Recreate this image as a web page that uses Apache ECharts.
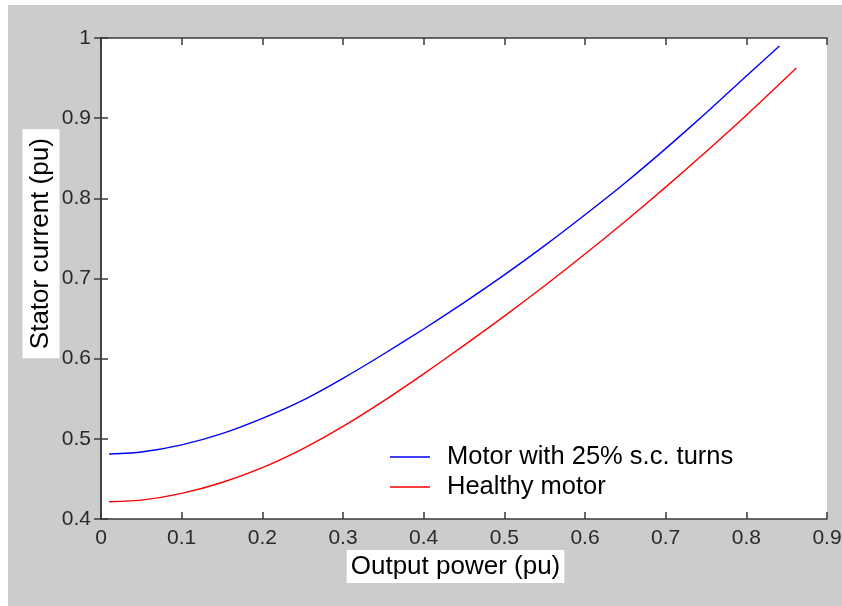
<!DOCTYPE html>
<html>
<head>
<meta charset="utf-8">
<script src="https://cdn.jsdelivr.net/npm/echarts@6/dist/echarts.min.js"></script>
<style>
  html, body { margin: 0; padding: 0; background: #fff; }
  #chart { width: 842px; height: 606px; }
</style>
</head>
<body>
<div id="chart"></div>
<script>
// Output power (pu) and stator current (pu) for each motor condition
const faultyPower   = [0.01, 0.05, 0.10, 0.15, 0.20, 0.25, 0.30, 0.35, 0.40, 0.45, 0.50, 0.55, 0.60, 0.65, 0.70, 0.75, 0.80, 0.841];
const faultyCurrent = [0.481, 0.4835, 0.4925, 0.5065, 0.5255, 0.548, 0.5755, 0.6055, 0.637, 0.670, 0.7045, 0.741, 0.7795, 0.8195, 0.862, 0.9065, 0.9525, 0.990];

const healthyPower   = [0.01, 0.05, 0.10, 0.15, 0.20, 0.25, 0.30, 0.35, 0.40, 0.45, 0.50, 0.55, 0.60, 0.65, 0.70, 0.75, 0.80, 0.862];
const healthyCurrent = [0.4216, 0.4235, 0.432, 0.4455, 0.464, 0.4875, 0.5155, 0.547, 0.581, 0.6165, 0.653, 0.691, 0.7305, 0.7715, 0.814, 0.858, 0.9035, 0.9625];

const seriesNames = ['Motor with 25% s.c. turns', 'Healthy motor'];
const xTitle = 'Output power (pu)';
const yTitle = 'Stator current (pu)';

const zip = (xs, ys) => xs.map((x, i) => [x, ys[i]]);

const chart = echarts.init(document.getElementById('chart'), null, { renderer: 'canvas' });

const axisLine = { show: true, lineStyle: { color: '#3a3a3a', width: 1.5 } };
const axisTick = { show: true, inside: true, length: 7, lineStyle: { color: '#3a3a3a', width: 1.5 } };
const tickFont = { color: '#2a2a2a', fontSize: 21, fontFamily: 'Liberation Sans, Arial, sans-serif' };
const fmt = v => String(Math.round(v * 10) / 10);

chart.setOption({
  backgroundColor: '#ffffff',
  animation: false,
  graphic: [
    { type: 'rect', z: -10, silent: true, shape: { x: 8, y: 5, width: 842, height: 606 }, style: { fill: '#cccccc' } },
    { type: 'text', z: 10, x: 455.5, y: 566.5,
      style: { text: xTitle, fill: '#000', font: '26px "Liberation Sans", Arial, sans-serif',
               align: 'center', verticalAlign: 'middle', backgroundColor: '#ffffff', padding: [4, 4, 3, 4] } },
    { type: 'text', z: 10, x: 41, y: 243.7, rotation: Math.PI / 2,
      style: { text: yTitle, fill: '#000', font: '26px "Liberation Sans", Arial, sans-serif',
               align: 'center', verticalAlign: 'middle', backgroundColor: '#ffffff', padding: [6, 9, 5, 9] } }
  ],
  grid: {
    left: 101, top: 38, right: 15, bottom: 87,
    show: true, backgroundColor: '#ffffff', borderWidth: 0,
    outerBoundsMode: 'none'
  },
  legend: {
    orient: 'vertical',
    left: 390, top: 444,
    padding: 0,
    icon: 'rect',
    itemWidth: 40, itemHeight: 1.5, itemGap: 4,
    textStyle: { color: '#000', fontSize: 25.5, fontFamily: 'Liberation Sans, Arial, sans-serif', padding: [0, 0, 0, 12] },
    data: seriesNames
  },
  xAxis: [
    { type: 'value', min: 0, max: 0.9, interval: 0.1, position: 'bottom',
      axisLine, axisTick, splitLine: { show: false },
      axisLabel: Object.assign({ margin: 9, formatter: fmt }, tickFont) },
    { type: 'value', min: 0, max: 0.9, interval: 0.1, position: 'top',
      axisLine, axisTick, splitLine: { show: false }, axisLabel: { show: false } }
  ],
  yAxis: [
    { type: 'value', min: 0.4, max: 1, interval: 0.1, position: 'left',
      axisLine, axisTick, splitLine: { show: false },
      axisLabel: Object.assign({ margin: 10, formatter: fmt }, tickFont) },
    { type: 'value', min: 0.4, max: 1, interval: 0.1, position: 'right',
      axisLine, axisTick, splitLine: { show: false }, axisLabel: { show: false } }
  ],
  series: [
    { name: seriesNames[0], type: 'line', xAxisIndex: 0, yAxisIndex: 0,
      data: zip(faultyPower, faultyCurrent), showSymbol: false, smooth: 0.2,
      lineStyle: { color: '#0000ff', width: 1.4 }, itemStyle: { color: '#0000ff' } },
    { name: seriesNames[1], type: 'line', xAxisIndex: 0, yAxisIndex: 0,
      data: zip(healthyPower, healthyCurrent), showSymbol: false, smooth: 0.2,
      lineStyle: { color: '#ff0000', width: 1.4 }, itemStyle: { color: '#ff0000' } }
  ]
});
</script>
</body>
</html>
